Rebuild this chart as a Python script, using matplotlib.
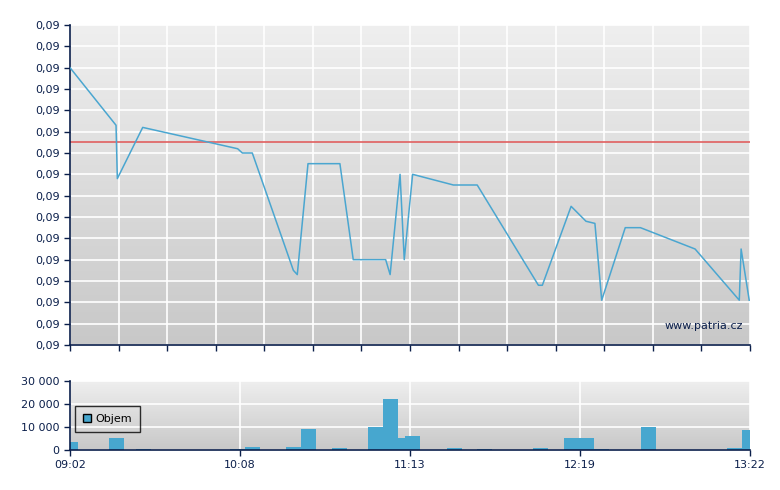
import matplotlib
matplotlib.use("Agg")
import matplotlib.pyplot as plt
import numpy as np

# minutes after 09:02 and price
t_price = [0, 17.6, 18.1, 27.8, 64.1, 65.9, 69.7, 85.4, 86.9, 91.0, 103.2, 108.3,
           120.7, 122.4, 126.2, 127.8, 131.0, 146.6, 155.7, 179.1, 180.6, 191.6,
           197.3, 200.7, 203.3, 212.3, 218.1, 239.0, 255.9, 256.6, 259.7]
price = [0.08980, 0.08953, 0.08928, 0.08952, 0.08942, 0.08940, 0.08940, 0.08885,
         0.08883, 0.08935, 0.08935, 0.08890, 0.08890, 0.08883, 0.08930, 0.08890,
         0.08930, 0.08925, 0.08925, 0.08878, 0.08878, 0.08915, 0.08908, 0.08907,
         0.08871, 0.08905, 0.08905, 0.08895, 0.08871, 0.08895, 0.08871]
ref_price = 0.08945

t_vol = [0, 17.8, 28.1, 63.9, 69.8, 85.5, 91.2, 103.0, 116.8, 122.5, 128.3, 131.0,
         147.0, 158.6, 179.9, 191.7, 197.4, 203.2, 221.2, 254.2, 260]
volume = [3500, 5200, 400, 400, 1300, 1300, 9100, 900, 10000, 22000, 5200, 6000,
          900, 500, 900, 5200, 5200, 400, 10000, 700, 8800]

time_ticks = [0, 65, 130, 195, 260]
time_labels = ["09:02", "10:08", "11:13", "12:19", "13:22"]

navy = "#0b1f4b"
line_col = "#4aa6d0"
bar_col = "#47a7cf"

fig = plt.figure(figsize=(7.8, 4.9), dpi=100)
ax = fig.add_axes([70/780, 145/490, 680/780, 320/490])
ax2 = fig.add_axes([70/780, 40/490, 680/780, 69.3/490])

grad = np.linspace(0, 1, 256).reshape(-1, 1)
cm = matplotlib.colors.LinearSegmentedColormap.from_list("g", ["#efefef", "#c8c8c8"])
for a in (ax, ax2):
    a.imshow(grad, cmap=cm, extent=[0, 1, 0, 1], transform=a.transAxes,
             aspect="auto", zorder=0)
    for s in ("top", "right"):
        a.spines[s].set_visible(False)
    for s in ("left", "bottom"):
        a.spines[s].set_color(navy)
        a.spines[s].set_linewidth(1.2)
    a.tick_params(colors=navy, labelcolor=navy, labelsize=8, length=4, width=1)
    a.set_xlim(0, 260)
    a.grid(True, color="white", linewidth=1.2)
    a.set_axisbelow(True)

# price panel
yt = 0.0885 + np.arange(16) * 0.0001
ax.set_ylim(yt[0], yt[-1])
ax.set_yticks(yt)
ax.set_yticklabels([f"{v:.2f}".replace(".", ",") for v in yt])
ax.set_xticks(np.linspace(0, 260, 15))
ax.set_xticklabels([])
ax.axhline(ref_price, color="#e06060", linewidth=1.2, zorder=2)
ax.plot(t_price, price, color=line_col, linewidth=1.1, zorder=3)
ax.text(0.99, 0.06, "www.patria.cz", transform=ax.transAxes, ha="right", va="center",
        color=navy, fontsize=8, zorder=4)

# volume panel
ax2.bar(t_vol, volume, width=5.74, color=bar_col, zorder=2, label="Objem")
ax2.set_ylim(0, 30000)
ax2.set_yticks([0, 10000, 20000, 30000])
ax2.set_yticklabels(["0", "10 000", "20 000", "30 000"])
ax2.set_xticks(time_ticks)
ax2.set_xticklabels(time_labels)
leg = ax2.legend(loc="center left", bbox_to_anchor=(0.007, 0.45), borderaxespad=0,
                 frameon=True, fancybox=False, fontsize=8, handlelength=0.8,
                 handleheight=0.8, borderpad=0.7, handletextpad=0.35)
leg.get_frame().set_edgecolor("black")
leg.get_frame().set_facecolor("none")
leg.get_frame().set_linewidth(1)
for p in leg.get_patches():
    p.set_edgecolor("black")
    p.set_linewidth(1)
for txt in leg.get_texts():
    txt.set_color("black")

fig.savefig("out.png", dpi=100)
